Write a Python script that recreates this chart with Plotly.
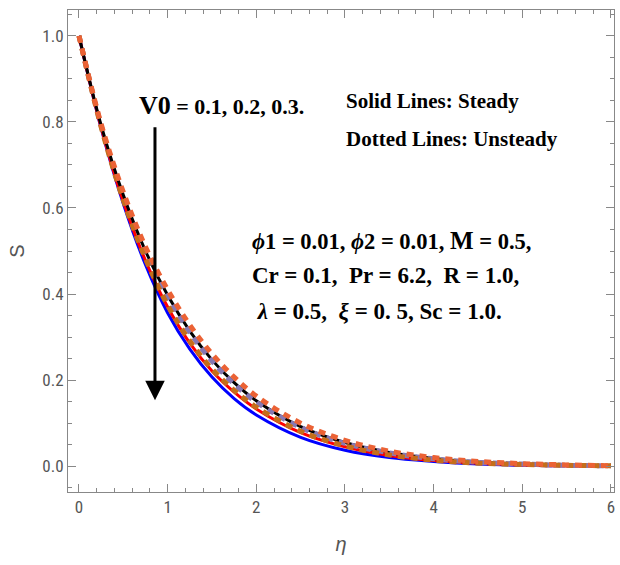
import plotly.graph_objects as go

eta = [0, 0.25, 0.5, 0.75, 1.0, 1.25, 1.5, 1.75, 2.0, 2.5, 3.0, 3.5, 4.0, 4.5, 5.0, 5.5, 6.0]

# Steady (solid)
s_blue  = [1, 0.785, 0.610, 0.468, 0.356, 0.272, 0.207, 0.157, 0.119, 0.067, 0.037, 0.020, 0.011, 0.005, 0.002, 0.001, 0.000]
s_red   = [1, 0.787, 0.615, 0.478, 0.370, 0.286, 0.221, 0.172, 0.133, 0.078, 0.045, 0.025, 0.013, 0.007, 0.003, 0.001, 0.000]
s_black = [1, 0.792, 0.630, 0.500, 0.397, 0.314, 0.247, 0.194, 0.152, 0.092, 0.055, 0.032, 0.018, 0.010, 0.005, 0.002, 0.001]
# Unsteady (dotted)
u_purple = [1, 0.791, 0.628, 0.497, 0.394, 0.311, 0.244, 0.191, 0.149, 0.090, 0.053, 0.031, 0.017, 0.009, 0.005, 0.002, 0.001]
u_brown  = [1, 0.788, 0.618, 0.482, 0.374, 0.291, 0.226, 0.176, 0.137, 0.081, 0.047, 0.026, 0.014, 0.007, 0.004, 0.002, 0.001]
u_orange = [1, 0.795, 0.637, 0.510, 0.410, 0.328, 0.261, 0.207, 0.163, 0.100, 0.060, 0.035, 0.020, 0.011, 0.006, 0.003, 0.001]

x_ticks = [0, 1, 2, 3, 4, 5, 6]
y_ticks = [0.0, 0.2, 0.4, 0.6, 0.8, 1.0]
y_tick_labels = ["0.0", "0.2", "0.4", "0.6", "0.8", "1.0"]

fig = go.Figure()

for ys, col in [(s_blue, "#0000FF"), (s_red, "#FF0000"), (s_black, "#000000")]:
    fig.add_trace(go.Scatter(x=eta, y=ys, mode="lines",
                             line=dict(color=col, width=3, shape="spline"),
                             showlegend=False, hoverinfo="skip"))
for ys, col in [(u_purple, "#8778B3"), (u_brown, "#C56E1A"), (u_orange, "#EB6235")]:
    fig.add_trace(go.Scatter(x=eta, y=ys, mode="lines",
                             line=dict(color=col, width=5, shape="spline", dash="7px,6px"),
                             showlegend=False, hoverinfo="skip"))

tickfont = dict(family="Roboto Condensed, Liberation Sans Narrow, Liberation Sans, Arial", size=17, color="#555555")
axcol = "#888888"

fig.update_xaxes(range=[-0.124, 6.034], tickvals=x_ticks, ticks="inside", ticklen=8,
                 tickcolor=axcol, showline=True, linecolor=axcol, linewidth=1, mirror="allticks",
                 showgrid=False, zeroline=False, tickfont=tickfont, automargin=False,
                 minor=dict(dtick=0.2, ticks="inside", ticklen=4, tickcolor=axcol, showgrid=False),
                 title=dict(text="<i>η</i>", font=dict(family="Liberation Sans, Arial", size=20, color="#555555"), standoff=20))
fig.update_yaxes(range=[-0.06, 1.06], tickvals=y_ticks, ticktext=y_tick_labels, ticks="inside", ticklen=8,
                 tickcolor=axcol, showline=True, linecolor=axcol, linewidth=1, mirror="allticks",
                 showgrid=False, zeroline=False, tickfont=tickfont, automargin=False,
                 minor=dict(dtick=0.05, ticks="inside", ticklen=4, tickcolor=axcol, showgrid=False),
                 title=dict(text="S", font=dict(family="Liberation Sans, Arial", size=20, color="#555555"), standoff=12))

serif = "Liberation Serif, Times New Roman, serif"

def ann(text, x, y, size=21):
    fig.add_annotation(x=x, y=y, xref="x", yref="y", text=text, showarrow=False,
                       xanchor="left", yanchor="middle",
                       font=dict(family=serif, size=size, color="black"))

ann("<b><span style='font-size:26px'>V0</span> = 0.1, 0.2, 0.3.</b>", 0.654, 0.838, size=22)
ann("<b>Solid Lines: Steady</b>", 2.99, 0.849)
ann("<b>Dotted Lines: Unsteady</b>", 2.99, 0.760)
ann("<b><i>ϕ</i>1 = 0.01, <i>ϕ</i>2 = 0.01, <span style='font-size:25px'>M</span> = 0.5,</b>", 1.93, 0.525, size=22.5)
ann("<b>Cr = 0.1,  Pr = 6.2,  R = 1.0,</b>", 1.93, 0.444, size=23)
ann("<b> <i>λ</i> = 0.5,  <i>ξ</i> = 0. 5, Sc = 1.0.</b>", 1.93, 0.360, size=23)

fig.add_annotation(x=0.857, y=0.153, ax=0.857, ay=0.791, xref="x", yref="y", axref="x", ayref="y",
                   text="", showarrow=True, arrowhead=2, arrowsize=1.3, arrowwidth=3, arrowcolor="black")

fig.update_layout(width=620, height=565, margin=dict(l=68, r=6, t=10, b=73),
                  plot_bgcolor="white", paper_bgcolor="white")

fig.write_html("out.html", config={"displayModeBar": False},
               post_script="document.body.style.margin='0';document.body.style.overflow='hidden';")
